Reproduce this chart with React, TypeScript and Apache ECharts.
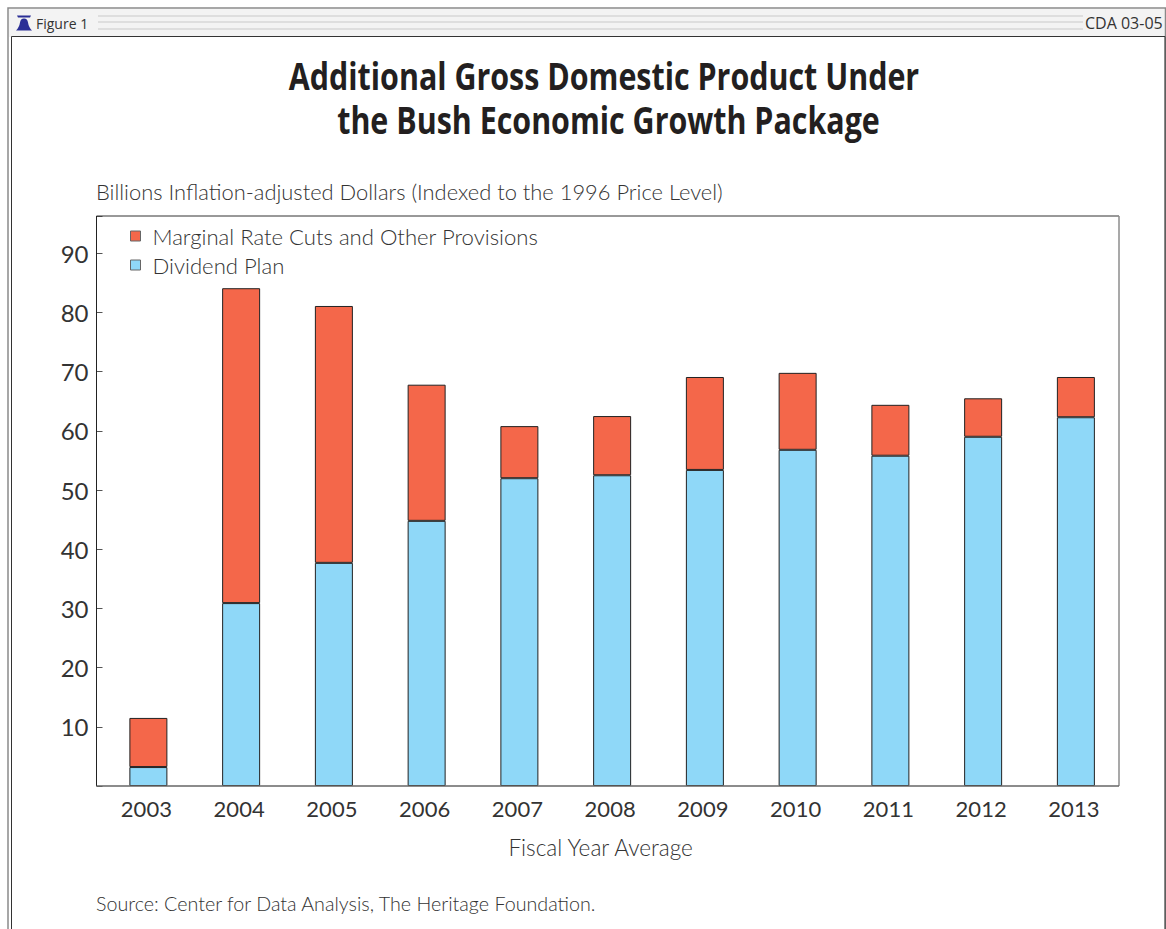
import React, { useEffect, useRef } from "react";
import * as echarts from "echarts";

const years = ["2003", "2004", "2005", "2006", "2007", "2008", "2009", "2010", "2011", "2012", "2013"];
const dividendPlan = [3.2, 30.9, 37.7, 44.8, 52.0, 52.5, 53.4, 56.8, 55.8, 59.0, 62.3];
const marginalRateCuts = [8.3, 53.2, 43.4, 23.0, 8.8, 10.0, 15.7, 13.0, 8.6, 6.5, 6.8];
const titleLines = ["Additional Gross Domestic Product Under", "the Bush Economic Growth Package"];

const RED = "#f4674a";
const BLUE = "#8fd8f8";
const INK = "#333333";
const SOFT_INK = "#333333";
const BODY_FONT = "Lato";

// Frame of the plot area, drawn above the bars so that they sit inside it
const PLOT = { left: 96.5, right: 1119, top: 216, bottom: 786 };

// Liberty-bell badge used in the figure's header strip
echarts.graphic.registerShape(
  "bell",
  echarts.graphic.extendPath(
    "M1 0 L15 0 L14 2 L2 2 Z M8 3 C10.5 3 11.5 4.5 12 7 C12.5 10.5 14 13 16 15 L0 15 C2 13 3.5 10.5 4 7 C4.5 4.5 5.5 3 8 3 Z",
    {}
  )
);

const stripes = [15, 21, 28].map((y) => ({
  type: "rect",
  shape: { x: 98, y, width: 985, height: 2 },
  style: { fill: "#dedede" },
  silent: true,
}));

const plotEdge = (x1: number, y1: number, x2: number, y2: number, stroke: string, lineWidth = 1) => ({
  type: "line",
  z: 10,
  shape: { x1, y1, x2, y2 },
  style: { stroke, lineWidth },
  silent: true,
});

// The heading face is a condensed bold, so the installed bold is narrowed horizontally
const headingLines = titleLines.map((text, i) => ({
  type: "text",
  x: i === 0 ? 604 : 608.5,
  y: 76 + i * 44,
  scaleX: 0.822,
  style: {
    text,
    font: "700 37px 'Open Sans'",
    fill: "#231f20",
    textAlign: "center",
    textVerticalAlign: "middle",
  },
  silent: true,
}));

export default function App() {
  const ref = useRef<HTMLDivElement>(null);

  useEffect(() => {
    document.body.style.margin = "0";
    const chart = echarts.init(ref.current!, undefined, { renderer: "svg" });
    chart.setOption({
      animation: false,
      backgroundColor: "#ffffff",
      textStyle: { fontFamily: BODY_FONT },
      legend: {
        left: 125,
        top: 220,
        orient: "vertical",
        itemWidth: 10,
        itemHeight: 10,
        itemGap: 7,
        icon: "rect",
        selectedMode: false,
        itemStyle: { borderColor: "#666666", borderWidth: 1 },
        data: ["Marginal Rate Cuts and Other Provisions", "Dividend Plan"],
        textStyle: { fontFamily: BODY_FONT, fontWeight: 300, fontSize: 22.1, color: SOFT_INK, padding: [0, 0, 0, 7] },
      },
      grid: { left: 102, right: 43.75, top: PLOT.top, bottom: 929 - PLOT.bottom },
      xAxis: {
        type: "category",
        data: years,
        name: "Fiscal Year Average",
        nameLocation: "middle",
        nameGap: 50,
        nameTextStyle: { fontFamily: BODY_FONT, fontWeight: 300, fontSize: 22.6, color: SOFT_INK, padding: [0, 23, 0, 0] },
        axisLine: { show: false },
        axisTick: { show: false },
        axisLabel: { margin: 11, fontFamily: BODY_FONT, fontSize: 22, color: INK, padding: [0, 4, 0, 0] },
      },
      yAxis: {
        type: "value",
        min: 0,
        max: 96.3,
        interval: 10,
        offset: 5.5,
        splitLine: { show: false },
        axisLine: { show: false },
        axisTick: { show: true, inside: true, length: 6, lineStyle: { color: "#555555" } },
        axisLabel: {
          margin: 8,
          fontFamily: BODY_FONT,
          fontSize: 24,
          color: INK,
          padding: [0, 0, 5, 0],
          formatter: (v: number) => (v > 0 && v % 10 === 0 ? String(v) : ""),
        },
      },
      series: [
        {
          name: "Dividend Plan",
          type: "bar",
          stack: "gdp",
          barWidth: 38,
          data: dividendPlan,
          itemStyle: { color: BLUE, borderColor: "#222222", borderWidth: 1 },
        },
        {
          name: "Marginal Rate Cuts and Other Provisions",
          type: "bar",
          stack: "gdp",
          barWidth: 38,
          data: marginalRateCuts,
          itemStyle: { color: RED, borderColor: "#222222", borderWidth: 1 },
        },
      ],
      graphic: [
        // header strip behind the figure number and report code
        { type: "rect", shape: { x: 9, y: 9, width: 1157, height: 28 }, style: { fill: "#f3f3f3" }, silent: true },
        ...stripes,
        // figure frame: grey outer rule with a thin dark inner rule
        { type: "rect", shape: { x: 8, y: 8, width: 1157.5, height: 930 }, style: { fill: "none", stroke: "#8a8a8a", lineWidth: 1.5 }, silent: true },
        { type: "rect", shape: { x: 11.5, y: 36.5, width: 1153.5, height: 900 }, style: { fill: "none", stroke: "#333333", lineWidth: 1 }, silent: true },
        { type: "bell", x: 16, y: 15.5, style: { fill: "#2b2f96" }, silent: true },
        { type: "text", x: 36, y: 23, style: { text: "Figure 1", font: "14px 'Open Sans'", fill: "#333333", textVerticalAlign: "middle" }, silent: true },
        { type: "text", x: 1085, y: 23, style: { text: "CDA 03-05", font: "16px 'Open Sans'", fill: "#333333", textVerticalAlign: "middle" }, silent: true },
        ...headingLines,
        { type: "text", x: 96, y: 191, style: { text: "Billions Inflation-adjusted Dollars (Indexed to the 1996 Price Level)", font: "300 21.9px Lato", fill: SOFT_INK, textVerticalAlign: "middle" }, silent: true },
        { type: "text", x: 96, y: 903, style: { text: "Source: Center for Data Analysis, The Heritage Foundation.", font: "300 19.7px Lato", fill: SOFT_INK, textVerticalAlign: "middle" }, silent: true },
        plotEdge(PLOT.left, PLOT.top, PLOT.right, PLOT.top, "#333333"),
        plotEdge(PLOT.left, PLOT.top, PLOT.left, PLOT.bottom, "#222222"),
        plotEdge(PLOT.right, PLOT.top, PLOT.right, PLOT.bottom, "#8c8c8c", 1.5),
        plotEdge(PLOT.left, PLOT.bottom, PLOT.right, PLOT.bottom, "#666666", 1.5),
      ],
    });
    return () => chart.dispose();
  }, []);

  return <div ref={ref} style={{ position: "absolute", left: 0, top: 0, width: 1166, height: 929, overflow: "hidden" }} />;
}
